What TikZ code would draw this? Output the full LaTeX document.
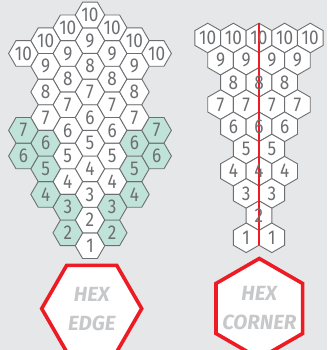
\documentclass[tikz,border=0pt]{standalone}
\usepackage{fontspec}
\setmainfont{Fira Sans}
\newfontfamily\digitfont{Fira Sans}[FakeStretch=0.86]
\usetikzlibrary{shapes.geometric}
\definecolor{paper-grey}{HTML}{E6E7E8}
\definecolor{hex-line}{HTML}{6D6E71}
\definecolor{hex-teal}{HTML}{BFE3D9}
\definecolor{mark-red}{HTML}{ED1C24}
\definecolor{tag-grey}{HTML}{C7C8CA}
% rows of the corner grid: value / column offsets
\newcommand\cornerrows{10/{-2,-1,0,1,2}, 9/{-1.5,-0.5,0.5,1.5}, 8/{-1,0,1},
  7/{-1.5,-0.5,0.5,1.5}, 6/{-1,0,1}, 5/{-0.5,0.5}, 4/{-1,0,1},
  3/{-0.5,0.5}, 2/{0}, 1/{-0.5,0.5}}

\begin{document}
\begin{tikzpicture}[
  x=1pt, y=-1pt,
  edgehex/.style={regular polygon, regular polygon sides=6, draw=hex-line,
    fill=white, line width=0.9pt, minimum size=29.6pt, inner sep=0pt,
    text=hex-line, font=\digitfont\fontsize{20}{20}\selectfont},
  rimhex/.style={edgehex, fill=hex-teal},
  cornerhex/.style={edgehex, shape border rotate=30},
  digit/.style={inner sep=0pt, text=hex-line,
    font=\digitfont\fontsize{20}{20}\selectfont},
  bighex/.style={regular polygon, regular polygon sides=6, draw=mark-red,
    fill=white, line width=3.6pt, minimum size=100pt, inner sep=0pt},
  tag/.style={align=center, text=tag-grey, inner sep=0pt,
    font=\fontsize{20.5}{29}\selectfont\bfseries\itshape},
]
  \clip (0,0) rectangle (327,350);
  \fill[paper-grey] (0,0) rectangle (327,350);

  % hex edge grid
  \foreach \k/\vals/\kind in {0/{1,...,10}/edgehex,
      -1/{4,...,10}/edgehex, 1/{4,...,10}/edgehex,
      -2/{7,...,10}/edgehex, 2/{7,...,10}/edgehex,
      -3/{10}/edgehex, 3/{10}/edgehex,
      -1/{2,3}/rimhex, 1/{2,3}/rimhex,
      -2/{4,5,6}/rimhex, 2/{4,5,6}/rimhex,
      -3/{6,7}/rimhex, 3/{6,7}/rimhex}
    \foreach \v in \vals
      \node[\kind] (e\k-\v) at ({90+22.2*\k}, {15+12.82*abs(\k)+25.63*(10-\v)}) {\v};

  % hex corner grid
  \foreach \v/\offs in \cornerrows
    \foreach \o [count=\i] in \offs
      \node[cornerhex] (c\v-\i) at ({259+25.63*\o}, {38+22.2*(10-\v)}) {};
  \coordinate (ctop) at (259,23.2);
  \coordinate (cbot) at (259,245.2);
  \draw[mark-red, line width=1.4pt] (ctop) -- (cbot);
  \foreach \v/\offs in \cornerrows
    \foreach \o [count=\i] in \offs
      \node[digit] (d\v-\i) at (c\v-\i) {\v};

  \node[bighex] (edge) at (91.7,308.6) {};
  \node[tag] (edge-tag) at (edge) {HEX\\EDGE};
  \node[bighex, shape border rotate=30] (corner) at (259.3,308.5) {};
  \node[tag] (corner-tag) at (corner) {HEX\\CORNER};
\end{tikzpicture}
\end{document}
